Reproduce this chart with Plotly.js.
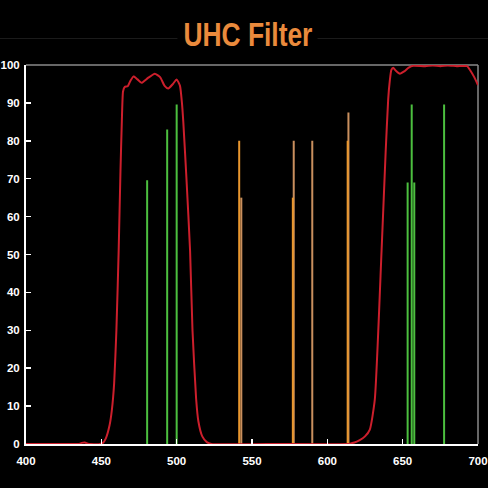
<!DOCTYPE html>
<html>
<head>
<meta charset="utf-8">
<script src="https://cdn.plot.ly/plotly-3.0.1.min.js"></script>
<style>
html,body{margin:0;padding:0;background:#000;}
#chart{width:488px;height:488px;}
</style>
</head>
<body>
<div id="chart"></div>
<script>
// Filter transmission curve (wavelength nm, transmission %)
const filterWl = [400,430,435,437,439,441,443,449,451,453,455.5,457,458.5,460,461.5,462.7,463.6,464.4,465.5,467.5,469.5,471.5,474,476.7,481,485.5,489,492,494.4,497.5,500,502.2,503.5,504.4,506.5,508.9,510.5,512.9,514.4,517,520,523,560,614,615,618,621.5,625,628.2,631.5,636,638.7,640.4,641.5,642.5,643.7,645.5,648.2,651,654,657,665,670,675,680,686,692.7,695,697.5,700];
const filterT  = [0,0,0,0.3,0.4,0.1,0,0,0.3,1.5,5,9,16,30,51,72,85,93,94.2,94.4,96,97,96.2,95.3,96.6,97.7,96.8,94.5,93.8,95,96.2,94.5,90,85,70,51,30,12,6,2,0.5,0,0,0,0.1,0.4,1,2,3.8,11.7,51,77,91,96,98.7,99.3,98.5,97.7,98.3,99.3,99.8,99.7,99.9,99.7,99.9,99.7,99.7,98.5,96.8,94.7];

// Emission lines (wavelength nm, height %)
const greenX = [480.4,493.7,500,653.3,656,657.7,677.5];
const greenH = [69.6,83,89.6,69,89.6,69,89.6];
const orangeX = [541.5,577.1,613.5];
const orangeH = [80,65,80];
const tanX = [542.9,577.7,590,614];
const tanH = [65,80,80,87.5];

const xTicks = [400,450,500,550,600,650,700];
const yTicks = [0,10,20,30,40,50,60,70,80,90,100];

function sticks(xs, hs){
  const x=[], y=[];
  xs.forEach((v,i)=>{ x.push(v,v,null); y.push(0,hs[i],null); });
  return {x, y};
}
const g = sticks(greenX, greenH), o = sticks(orangeX, orangeH), t = sticks(tanX, tanH);

const traces = [
  {x:t.x, y:t.y, mode:'lines', line:{color:'#c98f5e', width:2}, hoverinfo:'skip'},
  {x:o.x, y:o.y, mode:'lines', line:{color:'#e8962e', width:2}, hoverinfo:'skip'},
  {x:g.x, y:g.y, mode:'lines', line:{color:'#4cbf3f', width:2}, hoverinfo:'skip'},
  {x:filterWl, y:filterT, mode:'lines', line:{color:'#cc1f2c', width:2, shape:'spline', smoothing:0.5}, hoverinfo:'skip'}
];

const tickFont = {family:'"Liberation Sans", Arial, sans-serif', size:11.5, color:'#ffffff', weight:'bold'};

const layout = {
  width:488, height:488,
  paper_bgcolor:'#000', plot_bgcolor:'#000',
  margin:{l:26, r:10, t:65, b:44},
  showlegend:false,
  title:{
    text:'<b>UHC Filter</b>',
    font:{family:'"Liberation Sans", Arial, sans-serif', size:34, color:'#ea8a3c'},
    x:0.508, xanchor:'center', xref:'container',
    y:0.93, yanchor:'middle', yref:'container'
  },
  xaxis:{
    range:[400,700], tickvals:xTicks, ticktext:xTicks.map(String),
    showgrid:false, zeroline:false,
    showline:true, linecolor:'#ffffff', linewidth:2,
    ticks:'inside', ticklen:5, tickwidth:1.5, tickcolor:'#ffffff',
    tickfont:tickFont, ticklabelstandoff:5, fixedrange:true
  },
  yaxis:{
    range:[0,100], tickvals:yTicks, ticktext:yTicks.map(String),
    showgrid:false, zeroline:false,
    showline:true, linecolor:'#ffffff', linewidth:2,
    ticks:'inside', ticklen:5, tickwidth:1.5, tickcolor:'#ffffff',
    tickfont:tickFont, ticklabelstandoff:2, fixedrange:true
  },
  shapes:[
    {type:'line', xref:'paper', yref:'paper', x0:0, x1:1, y0:1, y1:1, line:{color:'#8a8a8a', width:1.5}, layer:'below'},
    {type:'line', xref:'paper', yref:'paper', x0:1, x1:1, y0:0, y1:1, line:{color:'#8a8a8a', width:1.5}, layer:'below'},
    {type:'line', xref:'paper', yref:'paper', x0:-0.058, x1:0.335, y0:1.07, y1:1.07, line:{color:'#1c1c1c', width:1}},
    {type:'line', xref:'paper', yref:'paper', x0:0.645, x1:1.022, y0:1.07, y1:1.07, line:{color:'#1c1c1c', width:1}}
  ]
};

Plotly.newPlot('chart', traces, layout, {displayModeBar:false, staticPlot:true}).then(function(gd){
  // condense the title horizontally to mimic the condensed typeface of the reference
  const tt = gd.querySelector('.gtitle');
  if (tt) { tt.setAttribute('textLength', '129'); tt.setAttribute('lengthAdjust', 'spacingAndGlyphs'); }
});
</script>
</body>
</html>
